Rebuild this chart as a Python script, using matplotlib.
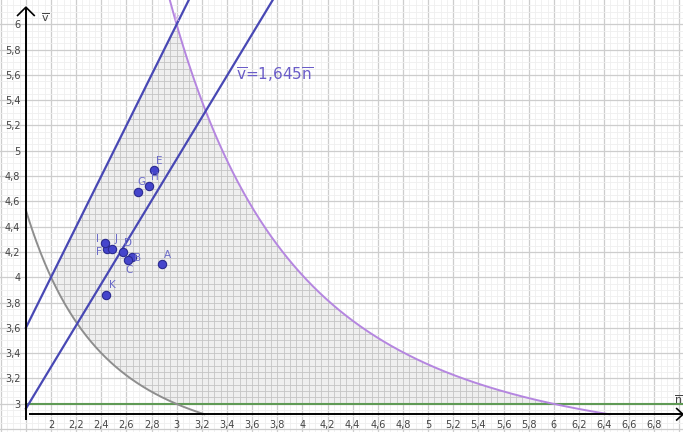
import matplotlib
matplotlib.use("Agg")
import matplotlib.pyplot as plt
import numpy as np
from matplotlib.patches import Polygon
from matplotlib.ticker import FuncFormatter

# points
pt_names = ['A', 'B', 'C', 'D', 'E', 'F', 'G', 'H', 'I', 'J', 'K']
pt_n = [2.882, 2.643, 2.611, 2.576, 2.823, 2.443, 2.691, 2.781, 2.430, 2.489, 2.438]
pt_v = [4.108, 4.163, 4.137, 4.203, 4.848, 4.224, 4.677, 4.719, 4.269, 4.222, 3.859]
# label offsets in pixels
pt_off = [(6, 9), (6, -1), (1, -10), (5, 9), (5, 9), (-8, -3),
          (4, 10), (6, 9), (-8, 4), (4, 10), (6, 10)]

# curves v = c + k / n^3
gray_k, gray_c = 11.4, 2.575
purple_k, purple_c = 92.5, 2.57
slope_left = 2.0
slope_right = 1.645
v_min = 3.0

X0, X1 = 1.594, 7.028
Y0, Y1 = 2.776, 6.192
AX_X, AX_Y = 1.8, 2.916

fig = plt.figure(figsize=(6.83, 4.32), dpi=100)
ax = fig.add_axes([0, 0, 1, 1])
ax.set_xlim(X0, X1)
ax.set_ylim(Y0, Y1)

# grid
for x in np.arange(1.6, 7.05, 0.05):
    major = abs(x / 0.2 - round(x / 0.2)) < 1e-6
    ax.axvline(x, color='#cdcdcd' if major else '#efefef', lw=0.9 if major else 0.6, zorder=0)
for y in np.arange(2.8, 6.2, 0.05):
    major = abs(y / 0.2 - round(y / 0.2)) < 1e-6
    ax.axhline(y, color='#cdcdcd' if major else '#efefef', lw=0.9 if major else 0.6, zorder=0)

def gray(n):
    return gray_c + gray_k / n ** 3

def purple(n):
    return purple_c + purple_k / n ** 3

# shaded region
nf = np.linspace(1.95, 6.1, 1500)
lower = np.maximum(gray(nf), v_min)
upper = np.minimum(slope_left * nf, purple(nf))
m = upper >= lower
verts = np.vstack([np.column_stack([nf[m], upper[m]]),
                   np.column_stack([nf[m][::-1], lower[m][::-1]])])
shade = Polygon(verts, closed=True, facecolor='#efefef', edgecolor='none', zorder=1)
ax.add_patch(shade)
for x in np.arange(1.6, 7.05, 0.05):
    ln = ax.axvline(x, color='#c4c4c4', lw=0.6, zorder=1.5)
    ln.set_clip_path(shade)
for y in np.arange(2.8, 6.2, 0.05):
    ln = ax.axhline(y, color='#c4c4c4', lw=0.6, zorder=1.5)
    ln.set_clip_path(shade)

# green line v = 3
ax.plot([AX_X, X1], [v_min, v_min], color='#5f9a55', lw=1.5, zorder=3)

n = np.linspace(AX_X, X1, 2000)
g = gray(n)
g[g < AX_Y] = np.nan
ax.plot(n, g, color='#8e8e8e', lw=1.4, zorder=3)
n_p = np.linspace(2.9, X1, 2000)
p = purple(n_p)
p[p < AX_Y] = np.nan
ax.plot(n_p, p, color='#b586e0', lw=1.4, zorder=3)

ax.plot(n, slope_left * n, color='#4848b4', lw=1.6, zorder=4)
ax.plot(n, slope_right * n, color='#4848b4', lw=1.6, zorder=4)

# points
ax.plot(pt_n, pt_v, 'o', ms=6, mfc='#4545cc', mec='#2a2a90', mew=0.8, zorder=6)
for name, x, y, off in zip(pt_names, pt_n, pt_v, pt_off):
    ax.annotate(name, (x, y), xytext=off, textcoords='offset pixels',
                ha='center', va='center', fontsize=7.5, color='#6a6ac8', zorder=7)

ax.text(2.99, 6.05, 'k', fontsize=7, color='#d0a8e8', ha='center', va='center', zorder=7)
ax.text(3.47, 5.6, r'$\overline{\mathrm{v}}$=1,645$\overline{\mathrm{n}}$',
        fontsize=11, color='#6a5cc8', ha='left', va='center', zorder=7)

# axes stuck to the edge
for s in ['top', 'right']:
    ax.spines[s].set_visible(False)
ax.spines['left'].set_position(('data', AX_X))
ax.spines['bottom'].set_position(('data', AX_Y))
ax.spines['left'].set_bounds(2.88, 6.13)
ax.spines['bottom'].set_bounds(1.83, X1)
ax.spines['left'].set_linewidth(1.4)
ax.spines['bottom'].set_linewidth(1.4)
ax.spines['left'].set_zorder(5)
ax.spines['bottom'].set_zorder(5)

# arrow heads
ax.plot([AX_X - 0.066, AX_X, AX_X + 0.066], [6.07, 6.135, 6.07], color='black', lw=1.2, clip_on=False, zorder=5)
ax.plot([X1 - 0.05, X1, X1 - 0.05], [AX_Y + 0.045, AX_Y, AX_Y - 0.045], color='black', lw=1.2, clip_on=False, zorder=5)

ax.text(1.955, 6.05, r'$\overline{\mathrm{v}}$', fontsize=8, color='#444444', ha='center', va='center')
ax.text(6.995, 3.035, r'$\overline{\mathrm{n}}$', fontsize=8, color='#444444', ha='center', va='center')

comma = FuncFormatter(lambda v, pos: ('%g' % round(v, 1)).replace('.', ','))
ax.set_xticks(np.arange(2.0, 6.85, 0.2))
ax.set_yticks(np.arange(3.0, 6.05, 0.2))
ax.xaxis.set_major_formatter(comma)
ax.yaxis.set_major_formatter(comma)
ax.tick_params(length=0, labelsize=7, labelcolor='#444444', pad=4)

fig.savefig('out.png', dpi=100)
